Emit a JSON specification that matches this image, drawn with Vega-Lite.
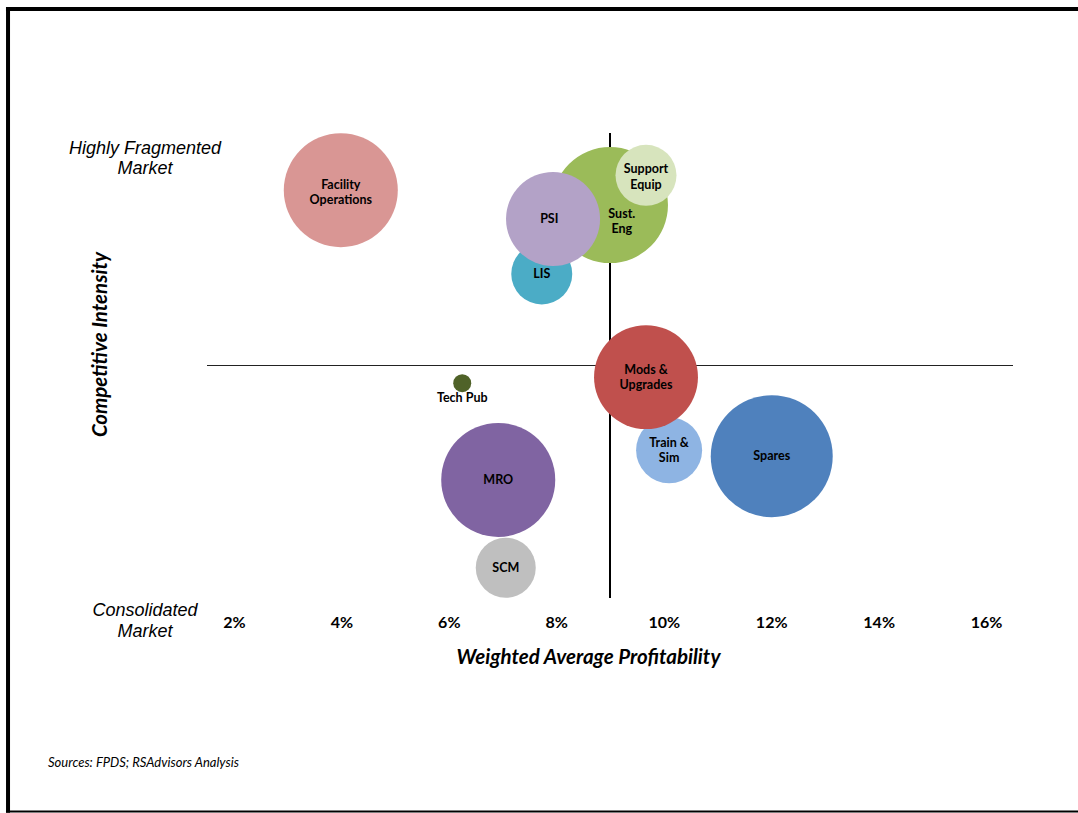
{
  "$schema": "https://vega.github.io/schema/vega-lite/v6.json",
  "autosize": {"type": "none"},
  "width": 806,
  "height": 465,
  "padding": {"left": 207, "top": 133, "right": 65, "bottom": 215},
  "background": "white",
  "config": {"view": {"stroke": null}},
  "datasets": {
    "bubbles": [
      {"name": "Facility Operations", "label": "Facility\nOperations", "x": 0.0399, "y": 8.77, "size": 32.5, "lx": 0.0399, "ly": 8.89},
      {"name": "LIS", "label": "LIS", "x": 0.0773, "y": 6.97, "size": 9.3, "lx": 0.0773, "ly": 6.97},
      {"name": "Sust. Eng", "label": "Sust.\nEng", "x": 0.0900, "y": 8.45, "size": 33.6, "lx": 0.0922, "ly": 8.26},
      {"name": "Support Equip", "label": "Support\nEquip", "x": 0.0967, "y": 9.09, "size": 9.3, "lx": 0.0967, "ly": 9.22},
      {"name": "PSI", "label": "PSI", "x": 0.0794, "y": 8.15, "size": 22.1, "lx": 0.0787, "ly": 8.15},
      {"name": "Train & Sim", "label": "Train &\nSim", "x": 0.1010, "y": 3.18, "size": 10.9, "lx": 0.1010, "ly": 3.34},
      {"name": "Mods & Upgrades", "label": "Mods &\nUpgrades", "x": 0.0967, "y": 4.75, "size": 27.0, "lx": 0.0967, "ly": 4.91},
      {"name": "Tech Pub", "label": "Tech Pub", "x": 0.0625, "y": 4.62, "size": 0.81, "lx": 0.0625, "ly": 4.31},
      {"name": "Spares", "label": "Spares", "x": 0.1201, "y": 3.05, "size": 37.2, "lx": 0.1201, "ly": 3.05},
      {"name": "MRO", "label": "MRO", "x": 0.0692, "y": 2.54, "size": 32.5, "lx": 0.0692, "ly": 2.54},
      {"name": "SCM", "label": "SCM", "x": 0.0706, "y": 0.65, "size": 9.0, "lx": 0.0706, "ly": 0.65}
    ],
    "one": [{}]
  },
  "layer": [
    {
      "data": {"name": "bubbles"},
      "mark": {"type": "circle", "opacity": 0, "strokeWidth": 0},
      "encoding": {
        "x": {
          "field": "x", "type": "quantitative",
          "scale": {"domain": [0.015, 0.165], "nice": false, "zero": false},
          "axis": {
            "values": [0.02, 0.04, 0.06, 0.08, 0.1, 0.12, 0.14, 0.16],
            "format": ".0%",
            "domain": false, "ticks": false, "tickSize": 0, "grid": false,
            "labelFont": "Lato", "labelFontWeight": "bold", "labelFontSize": 16, "labelColor": "#000000",
            "labelBaseline": "middle", "labelPadding": 24,
            "title": "Weighted Average Profitability",
            "titleFont": "Lato", "titleFontWeight": "bold", "titleFontStyle": "italic", "titleFontSize": 20.5, "titleColor": "#000000",
            "titleX": 381, "titleY": 59, "titleAlign": "center", "titleBaseline": "middle"
          }
        },
        "y": {
          "field": "y", "type": "quantitative",
          "scale": {"domain": [0, 10], "nice": false, "zero": false},
          "axis": {
            "labels": false, "domain": false, "ticks": false, "tickSize": 0, "grid": false,
            "title": "Competitive Intensity",
            "titleFont": "Lato", "titleFontWeight": "bold", "titleFontStyle": "italic", "titleFontSize": 20.5, "titleColor": "#000000",
            "titleX": -107, "titleY": 211, "titleAlign": "center", "titleBaseline": "middle", "titleAngle": -90
          }
        },
        "size": {"field": "size", "type": "quantitative", "scale": {"type": "linear", "domain": [0, 40], "range": [0, 16000], "zero": true}, "legend": null},
        "color": {
          "field": "name", "type": "nominal",
          "scale": {
            "domain": ["Facility Operations", "LIS", "Sust. Eng", "Support Equip", "PSI", "Train & Sim", "Mods & Upgrades", "Tech Pub", "Spares", "MRO", "SCM"],
            "range": ["#D99694", "#4BACC6", "#9BBB59", "#D7E4BD", "#B3A2C7", "#8EB4E3", "#C0504D", "#4F6228", "#4F81BD", "#8064A2", "#BFBFBF"]
          },
          "legend": null
        }
      }
    },
    {
      "data": {"name": "one"},
      "mark": {"type": "rule", "color": "#222222", "strokeWidth": 1},
      "encoding": {"y": {"datum": 5, "type": "quantitative"}}
    },
    {
      "data": {"name": "one"},
      "mark": {"type": "rule", "color": "#000000", "strokeWidth": 2},
      "encoding": {"x": {"datum": 0.09, "type": "quantitative"}}
    },
    {
      "data": {"name": "bubbles"},
      "mark": {"type": "circle", "opacity": 1, "strokeWidth": 0},
      "encoding": {
        "x": {"field": "x", "type": "quantitative"},
        "y": {"field": "y", "type": "quantitative"},
        "size": {"field": "size", "type": "quantitative", "legend": null},
        "color": {"field": "name", "type": "nominal", "legend": null}
      }
    },
    {
      "data": {"name": "bubbles"},
      "mark": {"type": "text", "font": "Lato", "fontWeight": "bold", "fontSize": 12.5, "color": "#000000", "lineBreak": "\n", "lineHeight": 15.5, "align": "center", "baseline": "middle"},
      "encoding": {
        "x": {"field": "lx", "type": "quantitative"},
        "y": {"field": "ly", "type": "quantitative"},
        "text": {"field": "label"}
      }
    },
    {
      "data": {"name": "one"},
      "mark": {"type": "text", "text": "Highly Fragmented\nMarket", "font": "Liberation Sans", "fontStyle": "italic", "fontSize": 18, "color": "#000000", "lineBreak": "\n", "lineHeight": 20.5, "align": "center", "baseline": "middle"},
      "encoding": {"x": {"datum": 0.00346, "type": "quantitative"}, "y": {"datum": 9.66, "type": "quantitative"}}
    },
    {
      "data": {"name": "one"},
      "mark": {"type": "text", "text": "Consolidated\nMarket", "font": "Liberation Sans", "fontStyle": "italic", "fontSize": 18, "color": "#000000", "lineBreak": "\n", "lineHeight": 21, "align": "center", "baseline": "middle"},
      "encoding": {"x": {"datum": 0.00346, "type": "quantitative"}, "y": {"datum": -0.28, "type": "quantitative"}}
    },
    {
      "data": {"name": "one"},
      "mark": {"type": "text", "text": "Sources: FPDS; RSAdvisors Analysis", "font": "Lato", "fontStyle": "italic", "fontSize": 13, "color": "#000000", "align": "left", "baseline": "middle"},
      "encoding": {"x": {"datum": -0.01459, "type": "quantitative"}, "y": {"datum": -3.548, "type": "quantitative"}}
    },
    {
      "data": {"name": "one"},
      "mark": {"type": "rule", "color": "#000000", "strokeWidth": 4},
      "encoding": {"x": {"datum": -0.02241, "type": "quantitative"}, "x2": {"datum": 0.1771}, "y": {"datum": 12.667, "type": "quantitative"}}
    },
    {
      "data": {"name": "one"},
      "mark": {"type": "rule", "color": "#000000", "strokeWidth": 4},
      "encoding": {"x": {"datum": -0.02203, "type": "quantitative"}, "y": {"datum": 12.71, "type": "quantitative"}, "y2": {"datum": -4.62}}
    },
    {
      "data": {"name": "one"},
      "mark": {"type": "rule", "color": "#000000", "strokeWidth": 2},
      "encoding": {"x": {"datum": -0.02241, "type": "quantitative"}, "x2": {"datum": 0.1771}, "y": {"datum": -4.591, "type": "quantitative"}}
    }
  ]
}
